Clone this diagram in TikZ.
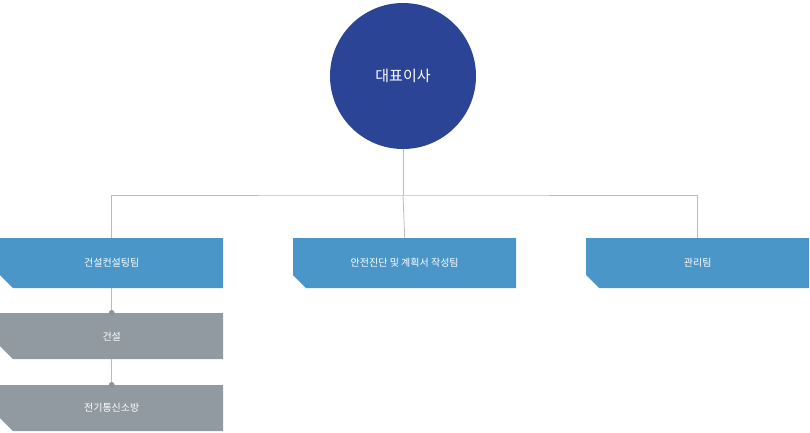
\documentclass[tikz,border=0pt]{standalone}
\usepackage{fontspec}
\newfontfamily\krfont{Noto Sans CJK KR}
\usetikzlibrary{positioning}
\definecolor{ceoblue}{HTML}{2B4496}
\definecolor{teamblue}{HTML}{4A96C8}
\definecolor{subgray}{HTML}{9199A1}
\definecolor{linegray}{HTML}{BBBBBB}
\tikzset{
  boxtext/.style={text=white, font=\krfont\fontsize{10}{12}\selectfont},
  orgline/.style={draw=linegray, line width=0.8pt},
}
% cut-corner box: name, left x, top y, height, colour, text
\newcommand{\orgbox}[6]{%
  \fill[#5] (#2,#3) -- ++(223,0) -- ++(0,-#4) -- ++(-210,0) -- ++(-13,13) -- cycle;
  \node[boxtext, minimum width=223pt, minimum height=#4 pt, anchor=north west, inner sep=0pt] (#1) at (#2,#3) {#6};
}
\begin{document}
\begin{tikzpicture}[x=1pt,y=1pt]
    \useasboundingbox (0,0) rectangle (810,-432);
    % top
    \node[circle, fill=ceoblue, minimum size=146pt, inner sep=0pt, text=white,
          font=\krfont\fontsize{15}{18}\selectfont] (ceo) at (403,-76) {대표이사};
    % teams
    \orgbox{build}{0}{-238}{50}{teamblue}{건설컨설팅팀}
    \orgbox{safety}{293}{-238}{50}{teamblue}{안전진단 및 계획서 작성팀}
    \orgbox{admin}{586}{-238}{50}{teamblue}{관리팀}
    \orgbox{cons}{0}{-313}{46}{subgray}{건설}
    \orgbox{elec}{0}{-385}{46}{subgray}{전기통신소방}
    \coordinate (hub) at (403,-195);
    \draw[orgline] (ceo.south) -- (hub);
    \draw[orgline] (build.north) |- (hub) -| (admin.north);
    \draw[orgline] (hub) -- (safety.north);
    \draw[orgline] (build.south) -- (cons.north);
    \draw[orgline] (cons.south) -- (elec.north);
    \fill[subgray!80!gray] (cons.north) circle[radius=3] (elec.north) circle[radius=3];
\end{tikzpicture}
\end{document}
